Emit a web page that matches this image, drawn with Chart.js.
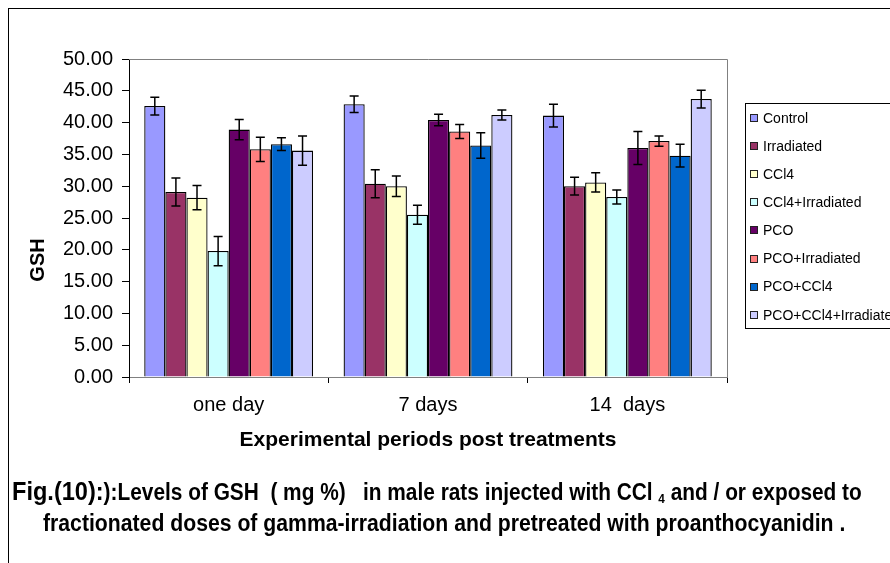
<!DOCTYPE html>
<html lang="en">
<head>
  <meta charset="UTF-8" />
  <title>GSH Levels</title>
  <script src="https://cdn.jsdelivr.net/npm/chart.js"></script>
  <style>
    body { margin: 0; background: #fff; }
    #wrap { position: relative; width: 890px; height: 563px; overflow: hidden; background: #fff; }
    #frame { position: absolute; left: 8px; top: 8px; width: 1000px; height: 1000px;
             border-left: 1px solid #000; border-top: 1px solid #000; }
    canvas { position: absolute; left: 0; top: 0; }
    .cap { position: absolute; white-space: pre; font-family: "Liberation Sans Narrow", "Arial Narrow", "Liberation Sans", Arial, sans-serif;
           font-weight: bold; font-size: 23px; line-height: 26px; color: #000; transform-origin: 0 0; }
    .cap .big { font-size: 26px; }
    .cap sub { font-size: 13px; vertical-align: -3px; line-height: 0; }
  </style>
</head>
<body>
  <div id="wrap">
    <div id="frame"></div>
    <canvas id="gshChart" width="890" height="563"></canvas>
    <div class="cap" id="cap1" style="left:12px; top:478px;"><span class="big">Fig.(10):</span>):Levels of GSH  ( mg %)   in male rats injected with CCl <sub>4</sub> and / or exposed to</div>
    <div class="cap" id="cap2" style="left:43px; top:510px;">fractionated doses of gamma-irradiation and pretreated with proanthocyanidin .</div>
  </div>

  <script>
    const periods = ["one day", "7 days", "14  days"];
    const groups = ["Control", "Irradiated", "CCl4", "CCl4+Irradiated", "PCO", "PCO+Irradiated", "PCO+CCl4", "PCO+CCl4+Irradiated"];
    const colors = ["#9999FF", "#993366", "#FFFFCC", "#CCFFFF", "#660066", "#FF8080", "#0066CC", "#CCCCFF"];

    // mean GSH per period, one array per group
    const control    = [42.6, 42.9, 41.1];
    const irradiated = [29.1, 30.4, 30.0];
    const ccl4       = [28.2, 30.0, 30.6];
    const ccl4Irr    = [19.8, 25.5, 28.3];
    const pco        = [38.9, 40.4, 36.0];
    const pcoIrr     = [35.8, 38.6, 37.1];
    const pcoCcl4    = [36.6, 36.4, 34.8];
    const pcoCcl4Irr = [35.6, 41.2, 43.7];

    // error bar half lengths
    const controlErr    = [1.4, 1.3, 1.8];
    const irradiatedErr = [2.2, 2.2, 1.4];
    const ccl4Err       = [1.9, 1.6, 1.5];
    const ccl4IrrErr    = [2.3, 1.5, 1.1];
    const pcoErr        = [1.6, 0.9, 2.6];
    const pcoIrrErr     = [1.9, 1.1, 0.8];
    const pcoCcl4Err    = [1.0, 2.0, 1.8];
    const pcoCcl4IrrErr = [2.3, 0.8, 1.4];

    const values = [control, irradiated, ccl4, ccl4Irr, pco, pcoIrr, pcoCcl4, pcoCcl4Irr];
    const errors = [controlErr, irradiatedErr, ccl4Err, ccl4IrrErr, pcoErr, pcoIrrErr, pcoCcl4Err, pcoCcl4IrrErr];

    const FONT = "'Liberation Sans', Arial, sans-serif";

    const errorBars = {
      id: "errorBars",
      afterDatasetsDraw(chart) {
        const ctx = chart.ctx;
        const y = chart.scales.y;
        ctx.save();
        ctx.strokeStyle = "#000";
        ctx.lineWidth = 1.5;
        chart.data.datasets.forEach((ds, di) => {
          chart.getDatasetMeta(di).data.forEach((bar, i) => {
            const v = ds.data[i], e = ds.err[i];
            const top = y.getPixelForValue(v + e), bot = y.getPixelForValue(v - e);
            ctx.beginPath();
            ctx.moveTo(bar.x, top); ctx.lineTo(bar.x, bot);
            ctx.moveTo(bar.x - 4.5, top); ctx.lineTo(bar.x + 4.5, top);
            ctx.moveTo(bar.x - 4.5, bot); ctx.lineTo(bar.x + 4.5, bot);
            ctx.stroke();
          });
        });
        ctx.restore();
      }
    };

    const decorations = {
      id: "decorations",
      beforeDatasetsDraw(chart) {
        const { ctx, chartArea: a } = chart;
        ctx.save();
        ctx.strokeStyle = "#808080";
        ctx.lineWidth = 1;
        ctx.beginPath();
        ctx.moveTo(a.left, a.top + 0.5); ctx.lineTo(a.right + 0.5, a.top + 0.5);
        ctx.lineTo(a.right + 0.5, a.bottom);
        ctx.stroke();
        ctx.restore();
      },
      afterDraw(chart) {
        const ctx = chart.ctx;
        ctx.save();
        // y axis title
        ctx.font = "bold 20px " + FONT;
        ctx.fillStyle = "#000";
        ctx.textAlign = "center";
        ctx.textBaseline = "middle";
        ctx.translate(38, 260);
        ctx.rotate(-Math.PI / 2);
        ctx.fillText("GSH", 0, 0);
        ctx.restore();

        // legend box
        ctx.save();
        ctx.fillStyle = "#fff";
        ctx.fillRect(745.5, 103.5, 200, 225);
        ctx.strokeStyle = "#000";
        ctx.lineWidth = 1;
        ctx.strokeRect(745.5, 103.5, 200, 225);
        ctx.font = "14px " + FONT;
        ctx.textBaseline = "middle";
        chart.data.datasets.forEach((ds, i) => {
          const cy = 118 + i * 28.1;
          ctx.fillStyle = ds.backgroundColor;
          ctx.fillRect(750.5, Math.round(cy) - 3.5, 7, 7);
          ctx.strokeStyle = "#222";
          ctx.strokeRect(750.5, Math.round(cy) - 3.5, 7, 7);
          ctx.fillStyle = "#000";
          ctx.fillText(ds.label, 763, cy + 1);
        });
        ctx.restore();
      }
    };

    new Chart(document.getElementById("gshChart"), {
      type: "bar",
      data: {
        labels: periods,
        datasets: groups.map((g, i) => ({
          label: g,
          data: values[i],
          err: errors[i],
          backgroundColor: colors[i],
          borderColor: "#000",
          borderWidth: 1.3,
          categoryPercentage: 0.847,
          barPercentage: 1.0
        }))
      },
      options: {
        responsive: false,
        animation: false,
        layout: { padding: { left: 10, top: 59, right: 163, bottom: 106 } },
        plugins: { legend: { display: false }, tooltip: { enabled: false } },
        scales: {
          x: {
            afterFit: s => { s.height = 80; },
            border: { color: "#808080", width: 1 },
            grid: { drawOnChartArea: false, drawTicks: true, tickLength: 6, color: "#000" },
            ticks: { color: "#000", font: { family: FONT, size: 20 }, padding: 10 },
            title: { display: true, text: "Experimental periods post treatments", color: "#000",
                     font: { family: FONT, size: 21, weight: "bold" }, padding: { top: 0, bottom: 4 } }
          },
          y: {
            min: 0, max: 50,
            afterFit: s => { s.width = 119; },
            border: { color: "#000", width: 1 },
            grid: { drawOnChartArea: false, drawTicks: true, tickLength: 7, color: "#000" },
            ticks: { stepSize: 5, color: "#000", padding: 9, font: { family: FONT, size: 20 },
                     callback: v => v.toFixed(2) }
          }
        }
      },
      plugins: [decorations, errorBars]
    });

    // squeeze caption lines to the reference widths
    document.fonts.ready.then(() => {
      [["cap1", 850], ["cap2", 802]].forEach(([id, w]) => {
        const el = document.getElementById(id);
        el.style.transform = "scaleX(" + (w / el.offsetWidth) + ")";
      });
    });
  </script>
</body>
</html>
